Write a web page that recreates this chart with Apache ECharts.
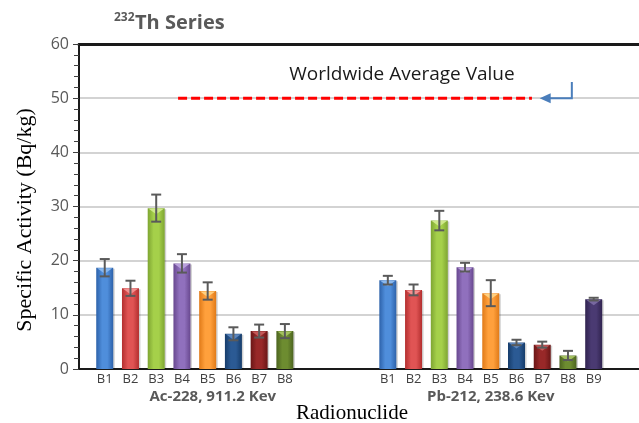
<!DOCTYPE html>
<html>
<head>
<meta charset="utf-8">
<script src="https://cdn.jsdelivr.net/npm/echarts@6/dist/echarts.min.js"></script>
<style>
  html, body { margin: 0; padding: 0; background: #ffffff; }
  #chart { width: 639px; height: 423px; }
</style>
</head>
<body>
<div id="chart"></div>
<script>
// ---- data ----
const ac228Samples = ['B1', 'B2', 'B3', 'B4', 'B5', 'B6', 'B7', 'B8'];
const ac228Activity = [18.7, 14.9, 29.7, 19.5, 14.4, 6.5, 7.0, 7.0];
const ac228Error = [1.6, 1.4, 2.5, 1.7, 1.6, 1.2, 1.2, 1.3];

const pb212Samples = ['B1', 'B2', 'B3', 'B4', 'B5', 'B6', 'B7', 'B8', 'B9'];
const pb212Activity = [16.4, 14.6, 27.4, 18.8, 14.0, 4.9, 4.5, 2.5, 12.9];
const pb212Error = [0.8, 1.0, 1.8, 0.8, 2.4, 0.5, 0.55, 0.85, 0.25];

const groupNames = ['Ac-228, 911.2 Kev', 'Pb-212, 238.6 Kev'];
const worldwideAverage = 50;
const yTicks = [0, 10, 20, 30, 40, 50, 60];

// ---- layout (slot units along the x axis) ----
const groupStart = [1, 12];
const groupLabelSlot = [5.2, 16];
const xMax = 21.76;
const avgLineFrom = 3.85, avgLineTo = 17.6;
const arrowTip = 17.9, arrowElbow = 19.15, arrowTopValue = 53;
const noteSlot = 12.55, noteValue = 54.3;
const barWidth = 17;

// sample colours B1..B9 : edge, centre, top highlight
const palette = [
  { dark: '#2d62aa', light: '#4f8edb', hi: '#8ab8ee' },
  { dark: '#b32f2f', light: '#e05454', hi: '#f29090' },
  { dark: '#7ea532', light: '#a5d04a', hi: '#cfe98c' },
  { dark: '#68488f', light: '#9070bd', hi: '#b9a0dc' },
  { dark: '#e07a18', light: '#ffa03c', hi: '#ffd080' },
  { dark: '#163c6a', light: '#2b5a94', hi: '#5d86bd' },
  { dark: '#6a1616', light: '#982828', hi: '#c45858' },
  { dark: '#4c6420', light: '#6d8c30', hi: '#a3c060' },
  { dark: '#30234f', light: '#4a3a72', hi: '#7868a0' }
];

const groups = [
  { samples: ac228Samples, values: ac228Activity, errors: ac228Error },
  { samples: pb212Samples, values: pb212Activity, errors: pb212Error }
];

const barData = [];
const errData = [];
const labelAt = {};
const tickSlots = [];
groups.forEach((g, gi) => {
  g.samples.forEach((name, i) => {
    const x = groupStart[gi] + i;
    barData.push([x, g.values[i], i]);
    errData.push([x, g.values[i] - g.errors[i], g.values[i] + g.errors[i]]);
    labelAt[x] = name;
    tickSlots.push(x);
  });
});

const chart = echarts.init(document.getElementById('chart'), null, { renderer: 'canvas' });

function renderBar(params, api) {
  const x = api.value(0);
  const v = api.value(1);
  const c = palette[api.value(2)];
  const top = api.coord([x, v]);
  const base = api.coord([x, 0]);
  const w = barWidth;
  const left = top[0] - w / 2;
  return {
    type: 'group',
    children: [
      {
        type: 'rect',
        shape: { x: left + 1.5, y: top[1] + 1, width: w, height: base[1] - top[1] - 1 },
        style: { fill: 'rgba(0,0,0,0.18)' }
      },
      {
        type: 'rect',
        shape: { x: left, y: top[1], width: w, height: base[1] - top[1] },
        style: {
          fill: new echarts.graphic.LinearGradient(0, 0, 1, 0, [
            { offset: 0, color: c.dark },
            { offset: 0.35, color: c.light },
            { offset: 0.65, color: c.light },
            { offset: 1, color: c.dark }
          ])
        }
      },
      {
        type: 'polygon',
        shape: { points: [[left + 1, top[1] + 0.5], [left + w - 1, top[1] + 0.5], [top[0], top[1] + 6]] },
        style: { fill: c.hi }
      }
    ]
  };
}

function renderError(params, api) {
  const x = api.value(0);
  const lo = api.coord([x, api.value(1)]);
  const hi = api.coord([x, api.value(2)]);
  const cap = 5;
  const st = { stroke: '#5a5a5a', lineWidth: 2 };
  return {
    type: 'group',
    children: [
      { type: 'line', shape: { x1: hi[0], y1: hi[1], x2: lo[0], y2: lo[1] }, style: st },
      { type: 'line', shape: { x1: hi[0] - cap, y1: hi[1], x2: hi[0] + cap, y2: hi[1] }, style: st },
      { type: 'line', shape: { x1: lo[0] - cap, y1: lo[1], x2: lo[0] + cap, y2: lo[1] }, style: st }
    ]
  };
}

function renderArrow(params, api) {
  const tip = api.coord([arrowTip, worldwideAverage]);
  const elbow = api.coord([arrowElbow, worldwideAverage]);
  const topPt = api.coord([arrowElbow, arrowTopValue]);
  const col = '#4a7ebb';
  return {
    type: 'group',
    children: [
      {
        type: 'polyline',
        shape: { points: [topPt, elbow, [tip[0] + 9, tip[1]]] },
        style: { stroke: col, lineWidth: 2, fill: null }
      },
      {
        type: 'polygon',
        shape: { points: [[tip[0], tip[1]], [tip[0] + 11, tip[1] - 5], [tip[0] + 11, tip[1] + 5]] },
        style: { fill: col }
      }
    ]
  };
}

const grid = { left: 79, right: 0, top: 44, bottom: 54 };

chart.setOption({
  animation: false,
  backgroundColor: '#ffffff',
  grid: grid,
  xAxis: [
    {
      type: 'value',
      min: 0,
      max: xMax,
      splitLine: { show: false },
      axisLine: { show: true, onZero: false, lineStyle: { color: '#1a1a1a', width: 2 } },
      axisTick: { show: false },
      axisLabel: {
        customValues: tickSlots,
        formatter: (v) => labelAt[v] || '',
        color: '#404040',
        fontFamily: 'Open Sans',
        fontSize: 13,
        margin: 4
      }
    },
    {
      type: 'value',
      position: 'top',
      min: 0,
      max: xMax,
      splitLine: { show: false },
      axisLine: { show: true, onZero: false, lineStyle: { color: '#1a1a1a', width: 3 } },
      axisTick: { show: false },
      axisLabel: { show: false }
    }
  ],
  yAxis: {
    type: 'value',
    min: yTicks[0],
    max: yTicks[yTicks.length - 1],
    interval: yTicks[1] - yTicks[0],
    axisLine: { show: true, lineStyle: { color: '#1a1a1a', width: 2 } },
    axisTick: { show: true, inside: false, length: 6, lineStyle: { color: '#404040', width: 1 } },
    minorTick: { show: true, splitNumber: 5, length: 5, lineStyle: { color: '#404040', width: 1 } },
    splitLine: { show: true, lineStyle: { color: '#c4c4c4', width: 1.5 } },
    axisLabel: { color: '#595959', fontFamily: 'Open Sans', fontSize: 16, margin: 10 }
  },
  series: [
    {
      type: 'custom',
      renderItem: renderBar,
      data: barData,
      encode: { x: 0, y: 1 },
      z: 3
    },
    {
      type: 'custom',
      renderItem: renderError,
      data: errData,
      encode: { x: 0, y: [1, 2] },
      z: 4
    },
    {
      type: 'line',
      data: [[avgLineFrom, worldwideAverage], [avgLineTo, worldwideAverage]],
      symbol: 'none',
      lineStyle: { color: '#ff0000', width: 3, type: [9, 4] },
      z: 5
    },
    {
      type: 'custom',
      renderItem: renderArrow,
      data: [[arrowElbow, worldwideAverage]],
      encode: { x: 0, y: 1 },
      z: 5
    }
  ]
});

// text placed against the axes
const px = (x, y) => chart.convertToPixel({ gridIndex: 0 }, [x, y]);
const notePt = px(noteSlot, noteValue);
const g1 = px(groupLabelSlot[0], 0);
const g2 = px(groupLabelSlot[1], 0);

chart.setOption({
  graphic: [
    {
      type: 'text', x: 114, y: 12,
      style: { text: '232', font: 'bold 12px "Open Sans"', fill: '#595959' }
    },
    {
      type: 'text', x: 135, y: 13,
      style: { text: 'Th Series', font: 'bold 20px "Open Sans"', fill: '#595959' }
    },
    {
      type: 'text', x: notePt[0], y: notePt[1],
      style: { text: 'Worldwide Average Value', font: '19px "Open Sans"', fill: '#1a1a1a', align: 'center', verticalAlign: 'middle' }
    },
    {
      type: 'text', x: g1[0], y: 397,
      style: { text: groupNames[0], font: 'bold 15px "Open Sans"', fill: '#595959', align: 'center', verticalAlign: 'middle' }
    },
    {
      type: 'text', x: g2[0], y: 397,
      style: { text: groupNames[1], font: 'bold 15px "Open Sans"', fill: '#595959', align: 'center', verticalAlign: 'middle' }
    },
    {
      type: 'text', x: 352, y: 413,
      style: { text: 'Radionuclide', font: '21px "Liberation Serif"', fill: '#000000', align: 'center', verticalAlign: 'middle' }
    },
    {
      type: 'text', x: 25, y: 220, rotation: Math.PI / 2,
      style: { text: 'Specific Activity (Bq/kg)', font: '22px "Liberation Serif"', fill: '#000000', align: 'center', verticalAlign: 'middle' }
    }
  ]
});
</script>
</body>
</html>
